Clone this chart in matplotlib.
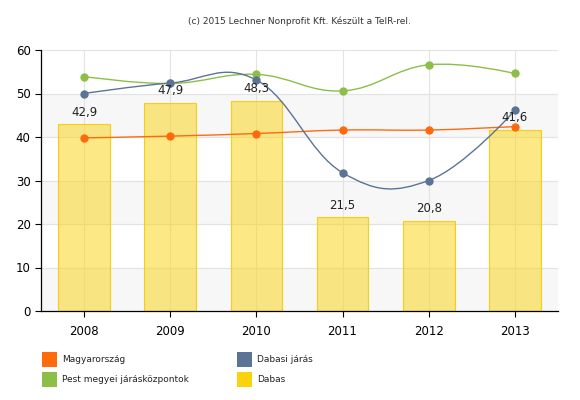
import numpy as np
import matplotlib.pyplot as plt
from matplotlib.path import Path
from matplotlib.patches import PathPatch, Rectangle

# adatok
evek = ['2008', '2009', '2010', '2011', '2012', '2013']
dabas = [42.9, 47.9, 48.3, 21.5, 20.8, 41.6]
magyarorszag = [39.8, 40.2, 40.8, 41.6, 41.6, 42.4]
dabasi_jaras = [50.0, 52.4, 53.1, 31.8, 30.0, 46.1]
pest_kozpontok = [53.9, 52.3, 54.4, 50.6, 56.6, 54.6]
dabas_cimkek = ['42,9', '47,9', '48,3', '21,5', '20,8', '41,6']

c_orange = '#FF6A0D'
c_blue = '#5B7495'
c_green = '#8DBE48'
c_yellow = '#F9D30B'


def spline_path(xs, ys, smoothing=1.5):
    # bezier gorbe a pontokon at (highcharts-szeru simitas, levagas nelkul)
    n = len(xs)
    left = [(x, y) for x, y in zip(xs, ys)]
    right = [(x, y) for x, y in zip(xs, ys)]
    d = smoothing + 1
    for i in range(1, n - 1):
        x, y = xs[i], ys[i]
        lx, ly = xs[i - 1], ys[i - 1]
        nx, ny = xs[i + 1], ys[i + 1]
        lcx = (smoothing * x + lx) / d
        lcy = (smoothing * y + ly) / d
        rcx = (smoothing * x + nx) / d
        rcy = (smoothing * y + ny) / d
        corr = (rcy - lcy) * (rcx - x) / (rcx - lcx) + y - rcy
        left[i] = (lcx, lcy + corr)
        right[i] = (rcx, rcy + corr)
    verts = [(xs[0], ys[0])]
    codes = [Path.MOVETO]
    for i in range(1, n):
        verts += [right[i - 1], left[i], (xs[i], ys[i])]
        codes += [Path.CURVE4] * 3
    return Path(verts, codes)


fig = plt.figure(figsize=(5.8, 4), dpi=100)
ax = fig.add_axes([0.0707, 0.2225, 0.8913, 0.6525])
x = np.arange(len(evek))

# savos hatter
for lo in [0, 20, 40]:
    ax.axhspan(lo, lo + 10, color='#F7F7F7', zorder=0)
for yy in range(10, 61, 10):
    ax.axhline(yy, color='#E3E3E3', lw=0.8, zorder=0.5)
for xx in x:
    ax.axvline(xx, color='#E3E3E3', lw=0.8, zorder=0.5)

ax.bar(x, dabas, width=0.6, color=(0.98, 0.84, 0.12, 0.55), edgecolor='#F3CF1A',
       linewidth=0.8, zorder=1)
for xi, v, t in zip(x, dabas, dabas_cimkek):
    ax.annotate(t, (xi, v), xytext=(0, 4), textcoords='offset points',
                ha='center', va='bottom', fontsize=8.5, color='#222222', zorder=5)

for vals, col in [(magyarorszag, c_orange), (pest_kozpontok, c_green), (dabasi_jaras, c_blue)]:
    ax.add_patch(PathPatch(spline_path(list(x), vals), fill=False, edgecolor=col, lw=1.0, zorder=3))
    ax.plot(x, vals, 'o', color=col, markersize=6, markeredgewidth=0, zorder=4)

ax.set_xlim(-0.5, 5.5)
ax.set_ylim(0, 60)
ax.set_xticks(x)
ax.set_xticklabels(evek)
ax.set_yticks(range(0, 61, 10))
ax.tick_params(axis='both', labelsize=8.5, colors='black', length=4, width=0.8)
ax.tick_params(axis='x', pad=6)
for s in ['top', 'right']:
    ax.spines[s].set_visible(False)
for s in ['left', 'bottom']:
    ax.spines[s].set_linewidth(0.9)

fig.text(0.517, 0.948, '(c) 2015 Lechner Nonprofit Kft. Készült a TeIR-rel.',
         ha='center', va='center', fontsize=6.5, color='#333333')

# jelmagyarazat
tetelek = [('Magyarország', c_orange, 42, 352), ('Dabasi járás', c_blue, 237, 352),
           ('Pest megyei járásközpontok', c_green, 42, 372), ('Dabas', c_yellow, 237, 372)]
for nev, col, px, py in tetelek:
    fig.add_artist(Rectangle((px / 580, 1 - (py + 15) / 400), 15 / 580, 15 / 400,
                             facecolor=col, edgecolor='none', transform=fig.transFigure))
    fig.text((px + 20) / 580, 1 - (py + 8) / 400, nev, ha='left', va='center',
             fontsize=6.5, color='#222222')

plt.savefig('out.png', dpi=100)
